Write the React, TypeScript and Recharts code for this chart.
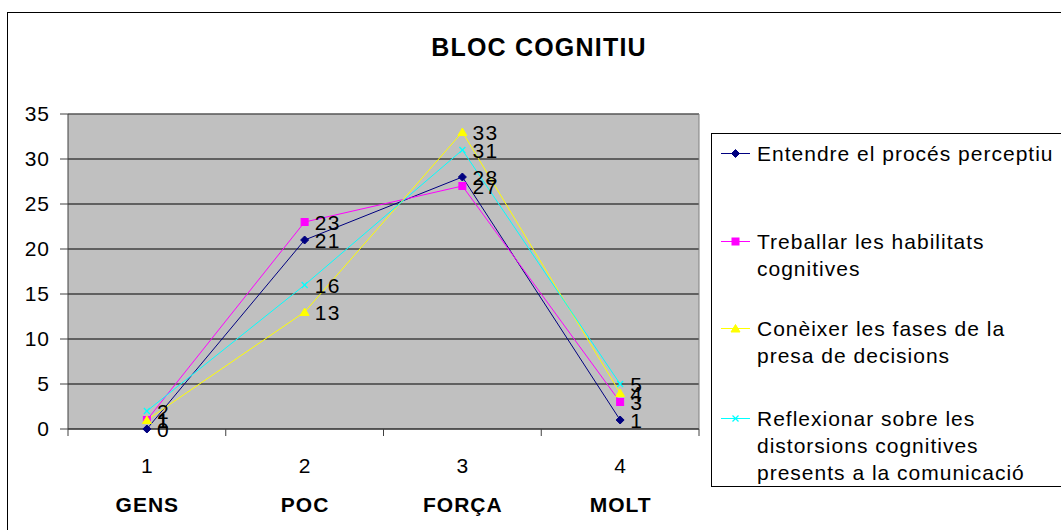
import React from 'react';
import { LineChart, Line, XAxis, YAxis, CartesianGrid, LabelList, ReferenceLine } from 'recharts';

const categories = ['GENS', 'POC', 'FORÇA', 'MOLT'];
const tickLabels = ['1', '2', '3', '4'];
const entendre = [0, 21, 28, 1];
const treballar = [1, 23, 27, 3];
const coneixer = [1, 13, 33, 4];
const reflexionar = [2, 16, 31, 5];
const yTicks = [0, 5, 10, 15, 20, 25, 30, 35];
const xTicks = [0.5, 1, 1.5, 2, 2.5, 3, 3.5, 4, 4.5];

const FONT = '"Liberation Sans", Arial, sans-serif';

const series = [
  { key: 's0', name: 'Entendre el procés perceptiu', lines: ['Entendre el procés perceptiu'], color: '#000080', shape: 'diamond', values: entendre },
  { key: 's1', name: 'Treballar les habilitats cognitives', lines: ['Treballar les habilitats', 'cognitives'], color: '#FF00FF', shape: 'square', values: treballar },
  { key: 's2', name: 'Conèixer les fases de la presa de decisions', lines: ['Conèixer les fases de la', 'presa de decisions'], color: '#FFFF00', shape: 'triangle', values: coneixer },
  { key: 's3', name: 'Reflexionar sobre les distorsions cognitives presents a la comunicació', lines: ['Reflexionar sobre les', 'distorsions cognitives', 'presents a la comunicació'], color: '#00FFFF', shape: 'x', values: reflexionar },
];

const data = categories.map((c, i) => {
  const row: any = { x: i + 1, cat: c };
  series.forEach((s) => { row[s.key] = s.values[i]; });
  return row;
});

function Marker({ cx, cy, shape, color }: any) {
  if (cx == null || cy == null) return null;
  if (shape === 'diamond') {
    return <polygon points={`${cx},${cy - 4} ${cx + 4},${cy} ${cx},${cy + 4} ${cx - 4},${cy}`} fill={color} stroke={color} />;
  }
  if (shape === 'square') {
    return <rect x={cx - 3.5} y={cy - 3.5} width={7} height={7} fill={color} stroke={color} />;
  }
  if (shape === 'triangle') {
    return <polygon points={`${cx},${cy - 4} ${cx + 4.5},${cy + 3.5} ${cx - 4.5},${cy + 3.5}`} fill={color} stroke={color} />;
  }
  return (
    <g stroke={color} strokeWidth={1.2}>
      <line x1={cx - 3} y1={cy - 3} x2={cx + 3} y2={cy + 3} />
      <line x1={cx - 3} y1={cy + 3} x2={cx + 3} y2={cy - 3} />
    </g>
  );
}

function XTick({ x, y, payload }: any) {
  const v = payload.value;
  if (!Number.isInteger(v)) {
    return <line x1={x} y1={y} x2={x} y2={y + 7} stroke="#404040" />;
  }
  const i = v - 1;
  return (
    <g fontFamily={FONT} fill="#000">
      <text x={x + 0.5} y={y + 36} textAnchor="middle" dominantBaseline="central" fontSize={21} letterSpacing={1}>{tickLabels[i]}</text>
      <text x={x + 0.5} y={y + 75} textAnchor="middle" dominantBaseline="central" fontSize={21} fontWeight="bold" letterSpacing={1}>{categories[i]}</text>
    </g>
  );
}

function ValueLabel({ x, y, value }: any) {
  return (
    <text x={x + 10} y={y} dominantBaseline="central" fontSize={21} letterSpacing={1.5} fontFamily={FONT} fill="#000">{value}</text>
  );
}

export default function App() {
  return (
    <div style={{ position: 'absolute', left: 0, top: 0, width: 1061, height: 530, overflow: 'hidden', background: '#fff', fontFamily: FONT }}>
      <div style={{ position: 'absolute', left: 7, top: 12, width: 1060, height: 530, border: '1px solid #000', boxSizing: 'border-box' }} />
      <div style={{ position: 'absolute', left: 339, top: 32, width: 400, textAlign: 'center', fontSize: 25, fontWeight: 'bold', lineHeight: '30px', letterSpacing: 1.2 }}>BLOC COGNITIU</div>
      <div style={{ position: 'absolute', left: 0, top: 0 }}>
        <LineChart width={1061} height={530} data={data} margin={{ top: 114, right: 362, bottom: 0, left: 0 }}>
          <CartesianGrid vertical={false} stroke="#000" fill="#C0C0C0" />
          <XAxis dataKey="x" type="number" domain={[0.5, 4.5]} ticks={xTicks} interval={0} tickLine={false} tickSize={0} tickMargin={0} height={101} tick={<XTick />} stroke="#404040" />
          <YAxis type="number" domain={[0, 35]} ticks={yTicks} interval={0} width={68} tickSize={8} tickMargin={10} stroke="#404040" tick={{ fill: '#000', fontSize: 21, fontFamily: FONT, letterSpacing: 1 }} />
          <ReferenceLine x={4.5} stroke="#808080" />
          <ReferenceLine y={35} stroke="#808080" />
          {series.map((s) => (
            <Line key={s.key} dataKey={s.key} name={s.name} stroke={s.color} strokeWidth={1} isAnimationActive={false}
              dot={(p: any) => <Marker key={`${s.key}-${p.index}`} cx={p.cx} cy={p.cy} shape={s.shape} color={s.color} />}
              activeDot={false}>
              <LabelList dataKey={s.key} content={<ValueLabel />} />
            </Line>
          ))}
        </LineChart>
      </div>
      <div style={{ position: 'absolute', left: 711, top: 133, width: 360, height: 354, border: '1px solid #000', boxSizing: 'border-box', background: '#fff' }}>
        {series.map((s, i) => (
          <div key={s.key} style={{ position: 'absolute', left: 0, top: 6 + [0, 88, 175, 265][i], width: 360 }}>
            <svg width={40} height={27} style={{ position: 'absolute', left: 8, top: 0 }}>
              <line x1={1} y1={13.5} x2={30} y2={13.5} stroke={s.color} />
              <Marker cx={15.5} cy={13.5} shape={s.shape} color={s.color} />
            </svg>
            <div style={{ position: 'absolute', left: 45, top: 0, fontSize: 21, lineHeight: '27px', whiteSpace: 'nowrap', color: '#000', letterSpacing: 1 }}>
              {s.lines.map((l, j) => <div key={j}>{l}</div>)}
            </div>
          </div>
        ))}
      </div>
    </div>
  );
}
